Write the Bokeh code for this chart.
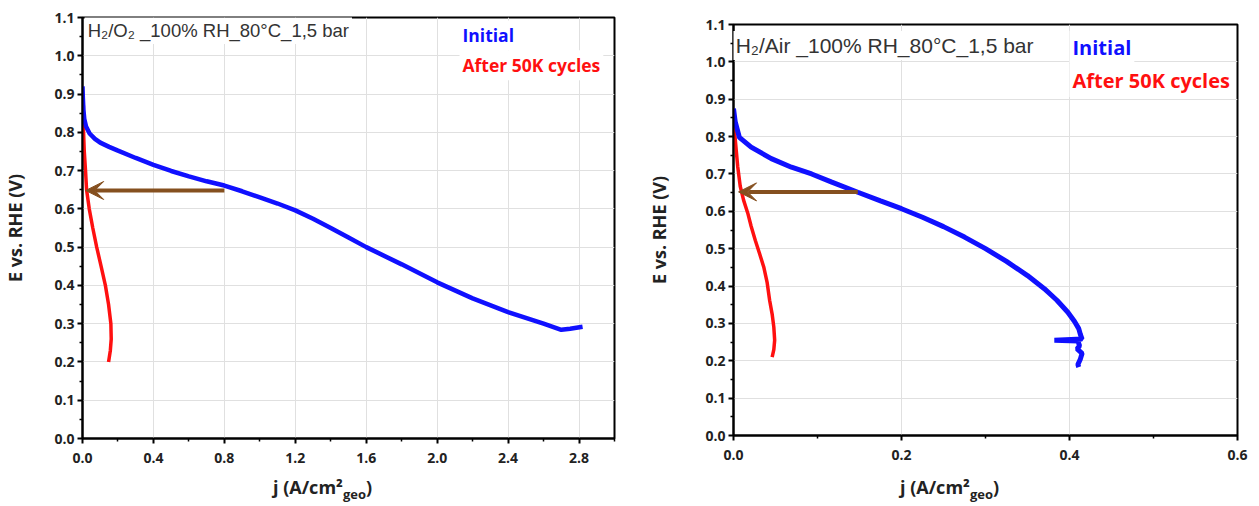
from bokeh.plotting import figure
from bokeh.layouts import row, column
from bokeh.models import FixedTicker, PrintfTickFormatter, Label, Arrow, VeeHead, Range1d, Div
from bokeh.embed import file_html
from bokeh.resources import INLINE

# ---------------- data: H2/O2 (left) ----------------
o2_init_j = [0.0, 0.002, 0.005, 0.01, 0.02, 0.04, 0.07, 0.1, 0.15, 0.2, 0.3, 0.4, 0.5, 0.6, 0.7, 0.8,
             0.9, 1.0, 1.1, 1.2, 1.3, 1.4, 1.5, 1.6, 1.8, 2.0, 2.2, 2.4, 2.6, 2.7, 2.75, 2.82]
o2_init_E = [0.92, 0.89, 0.86, 0.835, 0.815, 0.797, 0.783, 0.773, 0.762, 0.752, 0.733, 0.715, 0.699,
             0.685, 0.672, 0.661, 0.646, 0.63, 0.614, 0.596, 0.574, 0.55, 0.525, 0.5, 0.455, 0.408,
             0.366, 0.33, 0.3, 0.284, 0.287, 0.292]
o2_aged_j = [0.005, 0.004, 0.006, 0.01, 0.017, 0.023, 0.038, 0.058, 0.08, 0.105, 0.129, 0.147, 0.16,
             0.162, 0.157, 0.147]
o2_aged_E = [0.87, 0.84, 0.8, 0.75, 0.7, 0.65, 0.6, 0.55, 0.5, 0.45, 0.4, 0.35, 0.3, 0.26, 0.23, 0.2]
o2_arrow = [0.8, 0.018, 0.648]  # tail j, tip j, E

# ---------------- data: H2/Air (right) ----------------
air_init_j = [0.0, 0.002, 0.007, 0.021, 0.045, 0.069, 0.093, 0.117, 0.148, 0.175, 0.2, 0.225, 0.25,
              0.275, 0.3, 0.325, 0.35, 0.37, 0.385, 0.398, 0.406, 0.411, 0.413, 0.415, 0.382, 0.41,
              0.412, 0.409, 0.415, 0.413, 0.41, 0.411]
air_init_E = [0.875, 0.84, 0.798, 0.772, 0.741, 0.718, 0.7, 0.678, 0.651, 0.628, 0.607, 0.584, 0.559,
              0.531, 0.5, 0.466, 0.428, 0.393, 0.362, 0.33, 0.305, 0.286, 0.27, 0.258, 0.255, 0.253,
              0.24, 0.232, 0.22, 0.205, 0.19, 0.183]
air_aged_j = [0.0, 0.0005, 0.0014, 0.003, 0.005, 0.008, 0.012, 0.017, 0.021, 0.026, 0.031, 0.036,
              0.04, 0.043, 0.046, 0.048, 0.049, 0.048, 0.046]
air_aged_E = [0.865, 0.84, 0.81, 0.77, 0.72, 0.667, 0.63, 0.595, 0.56, 0.522, 0.487, 0.451, 0.41,
              0.362, 0.325, 0.29, 0.255, 0.23, 0.21]
air_arrow = [0.148, 0.006, 0.652]

# ---------------- ticks & texts ----------------
y_ticks = [0.0, 0.1, 0.2, 0.3, 0.4, 0.5, 0.6, 0.7, 0.8, 0.9, 1.0, 1.1]
y_minor = [0.05, 0.15, 0.25, 0.35, 0.45, 0.55, 0.65, 0.75, 0.85, 0.95, 1.05]
o2_x_ticks = [0.0, 0.4, 0.8, 1.2, 1.6, 2.0, 2.4, 2.8]
o2_x_minor = [0.2, 0.6, 1.0, 1.4, 1.8, 2.2, 2.6, 3.0]
air_x_ticks = [0.0, 0.2, 0.4, 0.6]
air_x_minor = [0.1, 0.3, 0.5]
o2_condition = "H\u2082/O\u2082 _100% RH_80\u00b0C_1,5 bar"
air_condition = "H\u2082/Air _100% RH_80\u00b0C_1,5 bar"
series_names = ["Initial", "After 50K cycles"]
y_label = "E vs. RHE (V)"
x_label_parts = ["j (A/cm\u00b2", "geo", ")"]

BLUE = "#1010ff"
RED = "#ff1010"
BROWN = "#85501f"
FONT = "Open Sans"


def make_fig(width, height, borders, x_end, xt, xm, ylab_standoff):
    l, r, t, b = borders
    p = figure(width=width, height=height, output_backend="svg", toolbar_location=None,
               x_range=Range1d(0, x_end), y_range=Range1d(0, 1.1),
               min_border_left=l, min_border_right=r, min_border_top=t, min_border_bottom=b)
    p.background_fill_color = "white"
    p.border_fill_color = "white"
    p.outline_line_color = "black"
    p.outline_line_width = 2
    p.xaxis.ticker = FixedTicker(ticks=xt, minor_ticks=xm)
    p.yaxis.ticker = FixedTicker(ticks=y_ticks, minor_ticks=y_minor)
    for ax in (p.xaxis, p.yaxis):
        ax.formatter = PrintfTickFormatter(format="%.1f")
        ax.axis_line_color = "black"
        ax.axis_line_width = 2
        ax.major_tick_line_color = "black"
        ax.major_tick_line_width = 2
        ax.minor_tick_line_color = "black"
        ax.minor_tick_line_width = 1.5
        ax.major_tick_in = 0
        ax.major_tick_out = 5
        ax.minor_tick_in = 0
        ax.minor_tick_out = 3
        ax.major_label_text_font = FONT
        ax.major_label_text_font_style = "bold"
        ax.major_label_text_font_size = "14px"
        ax.major_label_text_color = "#222222"
    p.xaxis.major_label_standoff = 9
    p.yaxis.major_label_standoff = 3
    p.yaxis.axis_label = y_label
    p.yaxis.axis_label_text_font = FONT
    p.yaxis.axis_label_text_font_style = "bold"
    p.yaxis.axis_label_text_font_size = "18px"
    p.yaxis.axis_label_text_color = "#222222"
    p.yaxis.axis_label_standoff = ylab_standoff
    p.xgrid.grid_line_color = "#e0e0e0"
    p.ygrid.grid_line_color = "#e0e0e0"
    p.xgrid.grid_line_width = 1
    p.ygrid.grid_line_width = 1
    return p


def xlabel_div(width, pad):
    html = ('<div style="margin-left:%dpx;margin-top:5px;font-family:\'Open Sans\';font-weight:bold;'
            'font-size:18px;color:#222222;white-space:nowrap;">%s<sub style="font-size:13px;">%s</sub>%s</div>'
            % (pad, x_label_parts[0], x_label_parts[1], x_label_parts[2]))
    return Div(text=html, width=width, height=36, margin=0)


def add_texts(p, cond, cond_pos, cond_size, leg_x, leg_y, leg_size):
    p.add_layout(Label(x=cond_pos[0], y=cond_pos[1], text=cond, text_font="Liberation Sans",
                       text_font_size=cond_size, text_color="#333333", text_baseline="middle",
                       background_fill_color="white", padding=3))
    for name, yy, col in zip(series_names, leg_y, [BLUE, RED]):
        p.add_layout(Label(x=leg_x, y=yy, text=name, text_font=FONT, text_font_style="bold",
                           text_font_size=leg_size, text_color=col, text_baseline="middle",
                           background_fill_color="white", padding=3))


# ---------------- left figure ----------------
p1 = make_fig(630, 470, (82, 16, 17, 32), 3.0, o2_x_ticks, o2_x_minor, 24)
p1.line(o2_aged_j, o2_aged_E, line_color=RED, line_width=3.5)
p1.line(o2_init_j, o2_init_E, line_color=BLUE, line_width=4.5)
p1.add_layout(Arrow(x_start=o2_arrow[0], y_start=o2_arrow[2], x_end=o2_arrow[1], y_end=o2_arrow[2],
                    line_color=BROWN, line_width=4,
                    end=VeeHead(size=18, line_color=BROWN, fill_color=BROWN, line_width=1)))
add_texts(p1, o2_condition, (0.012, 1.066), "18.5px", 2.126, [1.053, 0.975], "17.5px")

# ---------------- right figure ----------------
p2 = make_fig(629, 470, (103, 22, 24, 35), 0.6, air_x_ticks, air_x_minor, 31)
p2.line(air_aged_j, air_aged_E, line_color=RED, line_width=3.5)
p2.line(air_init_j, air_init_E, line_color=BLUE, line_width=5)
p2.add_layout(Arrow(x_start=air_arrow[0], y_start=air_arrow[2], x_end=air_arrow[1], y_end=air_arrow[2],
                    line_color=BROWN, line_width=4,
                    end=VeeHead(size=18, line_color=BROWN, fill_color=BROWN, line_width=1)))
add_texts(p2, air_condition, (-0.001, 1.044), "21px", 0.4, [1.039, 0.95], "20px")

layout = row(column(p1, xlabel_div(630, 273)), column(p2, xlabel_div(629, 270)))
open("out.html", "w").write(file_html(layout, INLINE))
